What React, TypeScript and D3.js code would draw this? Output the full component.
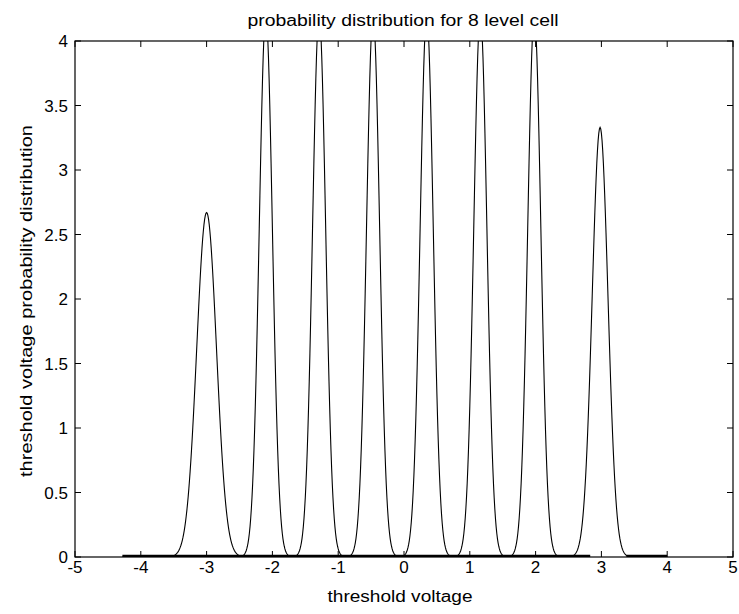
import React from "react";
import * as d3 from "d3";

// Peak parameters
const peakCenters = [-3.0, -2.1, -1.29, -0.47, 0.345, 1.16, 1.98, 2.98];
const peakHeights = [2.67, 4.2, 4.2, 4.2, 4.2, 4.2, 4.2, 3.33];
const peakSigmas = [0.15, 0.1, 0.1, 0.1, 0.1, 0.1, 0.1, 0.12];
const curveRange = [-4.28, 4.0];
const zeroSegments: [number, number][] = [[-4.28, 2.83], [3.38, 4.0]];
const xTicks = [-5, -4, -3, -2, -1, 0, 1, 2, 3, 4, 5];
const yTicks = [0, 0.5, 1, 1.5, 2, 2.5, 3, 3.5, 4];
const yTickLabels = ["0", "0.5", "1", "1.5", "2", "2.5", "3", "3.5", "4"];
const titleText = "probability distribution for 8 level cell";
const xLabelText = "threshold voltage";
const yLabelText = "threshold voltage probability distribution";

const W = 739, H = 614;
const M = { left: 75, top: 41, right: 733, bottom: 557 };
const FONT = "'Liberation Sans', Arial, sans-serif";

export default function App() {
  const x = d3.scaleLinear().domain([-5, 5]).range([M.left, M.right]);
  const y = d3.scaleLinear().domain([0, 4]).range([M.bottom, M.top]);

  const xs = d3.range(curveRange[0], curveRange[1] + 1e-9, 0.01);
  const pts: [number, number][] = xs.map((v) => {
    let m = 0;
    for (let i = 0; i < peakCenters.length; i++) {
      const d = v - peakCenters[i];
      m = Math.max(m, peakHeights[i] * Math.exp(-(d * d) / (2 * peakSigmas[i] * peakSigmas[i])));
    }
    return [v, m];
  });
  const line = d3.line<[number, number]>().x((d) => x(d[0])).y((d) => y(d[1]));
  const tick = 6;

  return (
    <svg width={W} height={H} style={{ position: "absolute", left: 0, top: 0, background: "#fff" }}>
      <defs>
        <clipPath id="plotclip">
          <rect x={M.left} y={M.top} width={M.right - M.left} height={M.bottom - M.top} />
        </clipPath>
      </defs>
      <rect x={0} y={0} width={W} height={H} fill="#fff" />
      <g clipPath="url(#plotclip)">
        {zeroSegments.map((s, i) => (
          <line key={i} x1={x(s[0])} x2={x(s[1])} y1={y(0) - 1} y2={y(0) - 1} stroke="#000" strokeWidth={2.5} />
        ))}
        <path d={line(pts) || ""} fill="none" stroke="#000" strokeWidth={1.1} />
      </g>
      <rect x={M.left} y={M.top} width={M.right - M.left} height={M.bottom - M.top} fill="none" stroke="#000" strokeWidth={1.2} />
      {xTicks.map((t) => (
        <g key={"x" + t}>
          <line x1={x(t)} x2={x(t)} y1={M.bottom} y2={M.bottom - tick} stroke="#000" />
          <line x1={x(t)} x2={x(t)} y1={M.top} y2={M.top + tick} stroke="#000" />
          <text x={x(t)} y={573} textAnchor="middle" fontFamily={FONT} fontSize={17} fill="#000">{String(t)}</text>
        </g>
      ))}
      {yTicks.map((t, i) => (
        <g key={"y" + t}>
          <line x1={M.left} x2={M.left + tick} y1={y(t)} y2={y(t)} stroke="#000" />
          <line x1={M.right} x2={M.right - tick} y1={y(t)} y2={y(t)} stroke="#000" />
          <text x={68} y={y(t) + 6} textAnchor="end" fontFamily={FONT} fontSize={17} fill="#000">{yTickLabels[i]}</text>
        </g>
      ))}
      <text x={403} y={26} textAnchor="middle" fontFamily={FONT} fontSize={16} textLength={311} lengthAdjust="spacingAndGlyphs" fill="#000">{titleText}</text>
      <text x={400} y={602} textAnchor="middle" fontFamily={FONT} fontSize={16} textLength={145} lengthAdjust="spacingAndGlyphs" fill="#000">{xLabelText}</text>
      <text transform={`translate(32, 301) rotate(-90)`} textAnchor="middle" fontFamily={FONT} fontSize={16} textLength={352} lengthAdjust="spacingAndGlyphs" fill="#000">{yLabelText}</text>
    </svg>
  );
}
